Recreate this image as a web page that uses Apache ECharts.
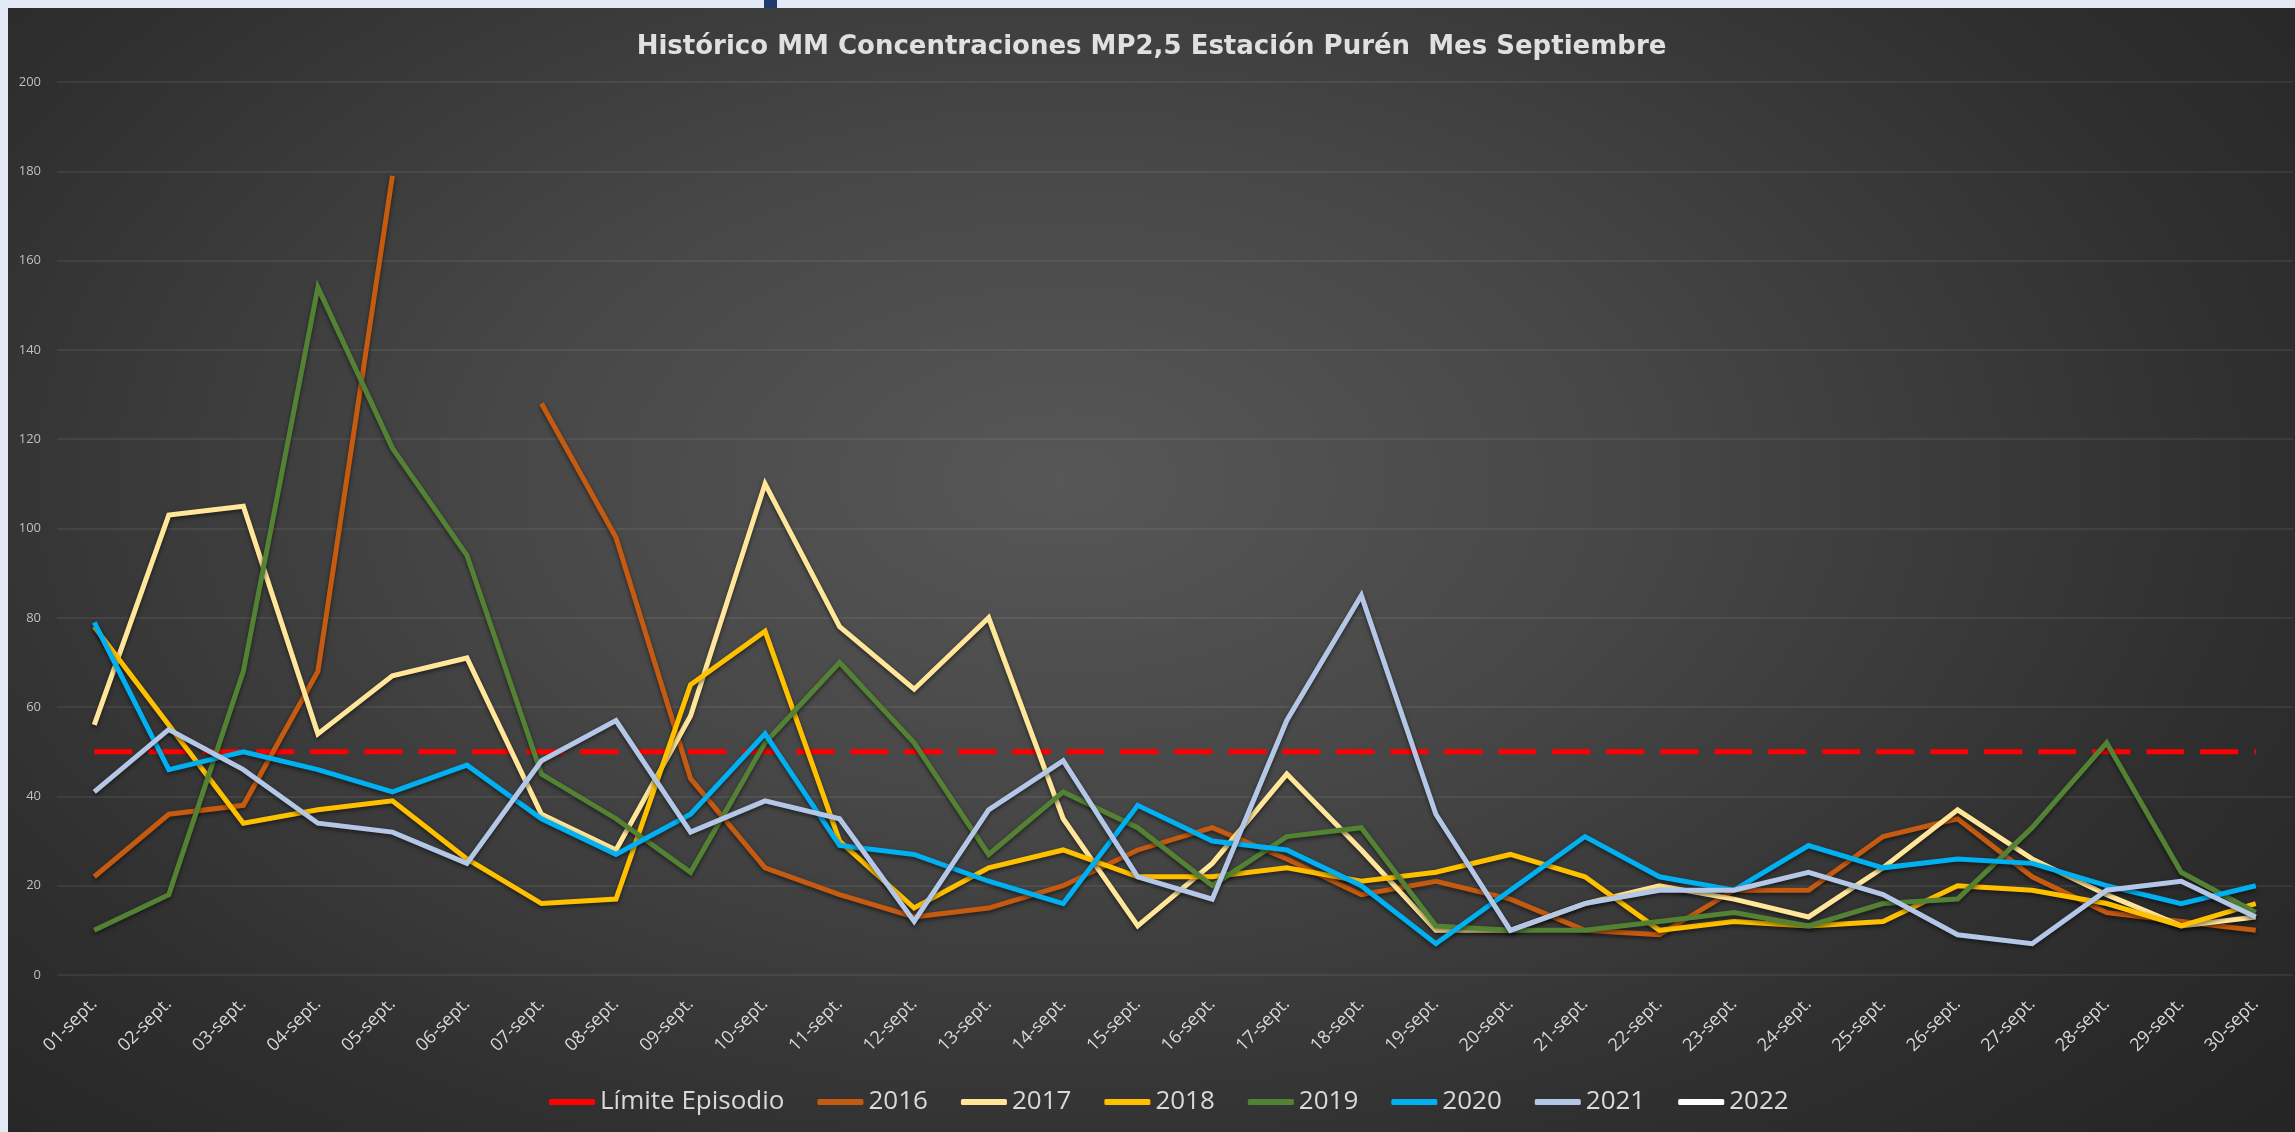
<!DOCTYPE html>
<html>
<head>
<meta charset="utf-8">
<script src="https://cdn.jsdelivr.net/npm/echarts@6/dist/echarts.min.js"></script>
<style>
  html, body { margin: 0; padding: 0; width: 2295px; height: 1132px; overflow: hidden; background: #e3eaf6; }
  #slideMark { position: absolute; left: 764px; top: 0; width: 13px; height: 9px; background: #1f3b6e; }
  #chart { position: absolute; left: 8px; top: 8px; width: 2287px; height: 1124px;
    background: radial-gradient(ellipse 70% 85% at 46% 42%, #575757 0%, #474747 35%, #2f2f2f 75%, #252525 100%); }
</style>
</head>
<body>
<div id="slideMark"></div>
<div id="chart"></div>
<script>
const categories = ['01-sept.','02-sept.','03-sept.','04-sept.','05-sept.','06-sept.','07-sept.','08-sept.','09-sept.','10-sept.',
  '11-sept.','12-sept.','13-sept.','14-sept.','15-sept.','16-sept.','17-sept.','18-sept.','19-sept.','20-sept.',
  '21-sept.','22-sept.','23-sept.','24-sept.','25-sept.','26-sept.','27-sept.','28-sept.','29-sept.','30-sept.'];

const limiteEpisodio = [50,50,50,50,50,50,50,50,50,50,50,50,50,50,50,50,50,50,50,50,50,50,50,50,50,50,50,50,50,50];
const y2016 = [22,36,38,68,179,null,128,98,44,24,18,13,15,20,28,33,26,18,21,17,10,9,19,19,31,35,22,14,12,10];
const y2017 = [56,103,105,54,67,71,36,28,58,110,78,64,80,35,11,25,45,28,10,10,16,20,17,13,24,37,26,18,11,13];
const y2018 = [78,56,34,37,39,26,16,17,65,77,30,15,24,28,22,22,24,21,23,27,22,10,12,11,12,20,19,16,11,16];
const y2019 = [10,18,68,154,118,94,45,35,23,52,70,52,27,41,33,20,31,33,11,10,10,12,14,11,16,17,33,52,23,14];
const y2020 = [79,46,50,46,41,47,35,27,36,54,29,27,21,16,38,30,28,20,7,19,31,22,19,29,24,26,25,20,16,20];
const y2021 = [41,55,46,34,32,25,48,57,32,39,35,12,37,48,22,17,57,85,36,10,16,19,19,23,18,9,7,19,21,13];
const y2022 = [null,null,null,null,null,null,null,null,null,null,null,null,null,null,null,null,null,null,null,null,null,null,null,null,null,null,null,null,null,null];

const yTicks = { min: 0, max: 200, interval: 20 };
const titleText = 'Histórico MM Concentraciones MP2,5 Estación Purén  Mes Septiembre';

const chart = echarts.init(document.getElementById('chart'), null, { renderer: 'canvas' });

function yearSeries(name, data, color) {
  return {
    name: name, type: 'line', data: data, symbol: 'none', showSymbol: false,
    connectNulls: false,
    lineStyle: { color: color, width: 5, join: 'miter',
      shadowColor: 'rgba(0,0,0,0.55)', shadowBlur: 4, shadowOffsetY: 2 },
    itemStyle: { color: color },
    emphasis: { disabled: true }
  };
}

const option = {
  backgroundColor: 'transparent',
  animation: false,
  title: {
    text: titleText,
    left: 'center', top: 21,
    textStyle: { color: '#e0e0e0', fontFamily: 'DejaVu Sans', fontWeight: 'bold', fontSize: 26 }
  },
  grid: { left: 49, right: 2, top: 74, bottom: 157, containLabel: false },
  xAxis: {
    type: 'category', data: categories, boundaryGap: true,
    axisLine: { show: false }, axisTick: { show: false },
    axisLabel: { rotate: 45, margin: 26, color: '#d9d9d9', fontFamily: 'Open Sans', fontSize: 18, interval: 0 }
  },
  yAxis: {
    type: 'value', min: yTicks.min, max: yTicks.max, interval: yTicks.interval,
    axisLine: { show: false }, axisTick: { show: false },
    axisLabel: { color: '#bfbfbf', fontFamily: 'Open Sans', fontSize: 13, margin: 16 },
    splitLine: { lineStyle: { color: 'rgba(255,255,255,0.09)', width: 1.5 } }
  },
  legend: {
    bottom: 12, left: 536,
    itemWidth: 46, itemHeight: 6, itemGap: 33,
    icon: 'roundRect',
    textStyle: { color: '#d9d9d9', fontFamily: 'Open Sans', fontSize: 26 },
    data: ['Límite Episodio','2016','2017','2018','2019','2020','2021','2022']
  },
  series: [
    {
      name: 'Límite Episodio', type: 'line', data: limiteEpisodio, symbol: 'none', showSymbol: false,
      lineStyle: { color: '#ff0000', width: 5, type: [38, 16] },
      itemStyle: { color: '#ff0000' },
      emphasis: { disabled: true }
    },
    yearSeries('2016', y2016, '#c55a11'),
    yearSeries('2017', y2017, '#ffe699'),
    yearSeries('2018', y2018, '#ffc000'),
    yearSeries('2019', y2019, '#548235'),
    yearSeries('2020', y2020, '#00b0f0'),
    yearSeries('2021', y2021, '#b4c7e7'),
    yearSeries('2022', y2022, '#ffffff')
  ]
};
chart.setOption(option);
</script>
</body>
</html>
